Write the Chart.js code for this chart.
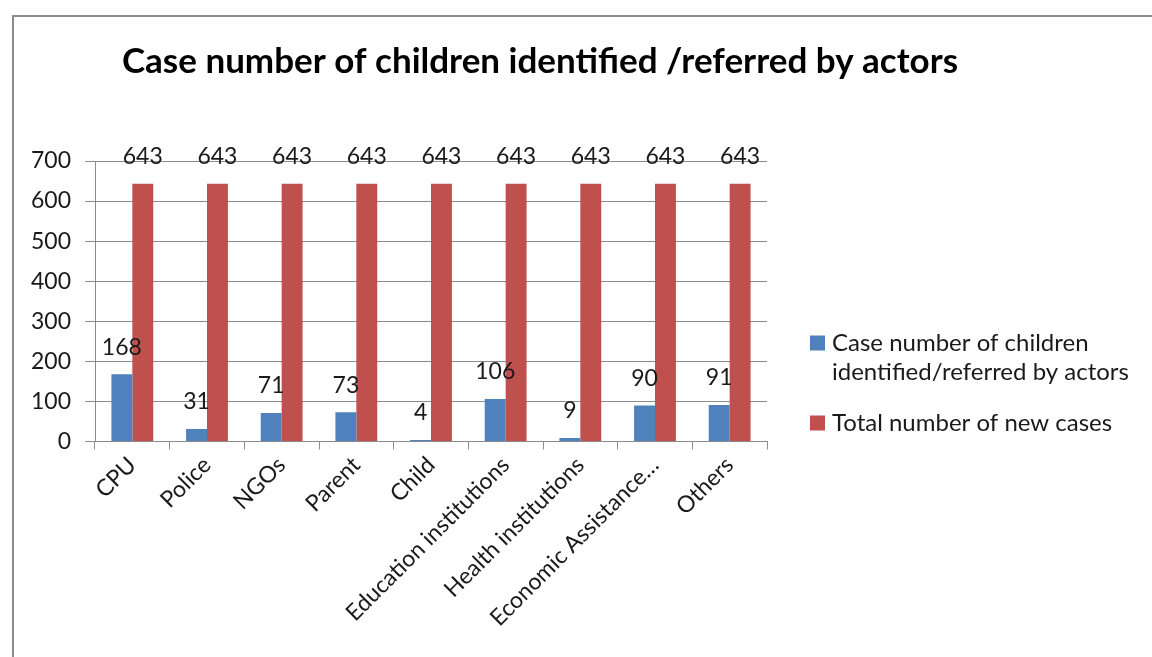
<!DOCTYPE html>
<html>
<head>
<meta charset="utf-8">
<script src="https://cdn.jsdelivr.net/npm/chart.js@4/dist/chart.umd.min.js"></script>
<style>
  html, body { margin: 0; padding: 0; background: #fff; }
  #wrap { width: 1152px; height: 657px; position: relative; }
</style>
</head>
<body>
<div id="wrap"><canvas id="chart"></canvas></div>
<script>
const categories = [
  "CPU", "Police", "NGOs", "Parent", "Child",
  "Education institutions", "Health institutions",
  "Economic Assistance…", "Others",
];
const identifiedCases = [168, 31, 71, 73, 4, 106, 9, 90, 91];
const totalNewCases = [643, 643, 643, 643, 643, 643, 643, 643, 643];
const seriesNames = [
  "Case number of children identified/referred by actors",
  "Total number of new cases",
];
const yTicks = [0, 100, 200, 300, 400, 500, 600, 700];

const FONT = "Lato, 'Open Sans', sans-serif";
const TEXT = "#1a1a1a";
const GRID = "#8c8c8c";
const BLUE = "#4f81bd";
const RED = "#c0504d";

// frame, title, value labels and the side legend
const decorations = {
  id: "decorations",
  beforeDraw(chart) {
    const ctx = chart.ctx;
    ctx.save();
    ctx.fillStyle = "#fff";
    ctx.fillRect(0, 0, chart.width, chart.height);
    ctx.strokeStyle = GRID;
    ctx.lineWidth = 2;
    ctx.strokeRect(13, 16, chart.width + 20, chart.height + 20);
    ctx.restore();
  },
  afterDatasetsDraw(chart) {
    const ctx = chart.ctx;
    ctx.save();
    ctx.font = "23px " + FONT;
    ctx.fillStyle = TEXT;
    ctx.textAlign = "center";
    ctx.textBaseline = "middle";
    chart.data.datasets.forEach((ds, i) => {
      chart.getDatasetMeta(i).data.forEach((bar, j) => {
        ctx.fillText(String(ds.data[j]), bar.x, bar.y - 27);
      });
    });
    ctx.restore();
  },
  afterDraw(chart) {
    const ctx = chart.ctx;
    ctx.save();
    ctx.fillStyle = "#000";
    ctx.font = "bold 35px " + FONT;
    ctx.textAlign = "center";
    ctx.textBaseline = "middle";
    ctx.fillText("Case number of children identified /referred by actors", 540, 62);

    // legend
    ctx.font = "24px " + FONT;
    ctx.textAlign = "left";
    const x0 = 810, box = 15, lineH = 29;
    let y = 343;
    chart.data.datasets.forEach((ds) => {
      const words = ds.label.split(" ");
      const lines = [];
      let cur = "";
      words.forEach((w) => {
        const test = cur ? cur + " " + w : w;
        if (ctx.measureText(test).width > 320 && cur) {
          lines.push(cur);
          cur = w;
        } else {
          cur = test;
        }
      });
      lines.push(cur);
      ctx.fillStyle = ds.backgroundColor;
      ctx.fillRect(x0, y - box / 2, box, box);
      ctx.fillStyle = TEXT;
      lines.forEach((ln, k) => ctx.fillText(ln, x0 + 22, y + k * lineH));
      y += lines.length * lineH + 22;
    });
    ctx.restore();
  },
};

new Chart(document.getElementById("chart"), {
  type: "bar",
  data: {
    labels: categories,
    datasets: [
      { label: seriesNames[0], data: identifiedCases, backgroundColor: BLUE },
      { label: seriesNames[1], data: totalNewCases, backgroundColor: RED },
    ],
  },
  options: {
    responsive: true,
    maintainAspectRatio: false,
    animation: false,
    layout: { padding: { top: 161, right: 385, left: 0, bottom: 0 } },
    datasets: { bar: { barPercentage: 1, categoryPercentage: 0.56 } },
    scales: {
      x: {
        grid: {
          display: true,
          drawOnChartArea: false,
          color: GRID,
          tickLength: 8,
        },
        border: { color: GRID },
        ticks: {
          color: TEXT,
          font: { family: FONT, size: 23 },
          minRotation: 45,
          maxRotation: 45,
          autoSkip: false,
          padding: 2,
        },
        afterFit: (scale) => { scale.height = 215.5; },
      },
      y: {
        min: 0,
        max: 700,
        afterBuildTicks: (scale) => { scale.ticks = yTicks.map((v) => ({ value: v })); },
        grid: { color: GRID, tickLength: 10 },
        border: { color: GRID },
        ticks: {
          color: TEXT,
          font: { family: FONT, size: 23 },
          padding: 14,
        },
        afterFit: (scale) => { scale.width = 95; },
      },
    },
    plugins: {
      legend: { display: false },
      title: { display: false },
      tooltip: { enabled: false },
    },
  },
  plugins: [decorations],
});
</script>
</body>
</html>
